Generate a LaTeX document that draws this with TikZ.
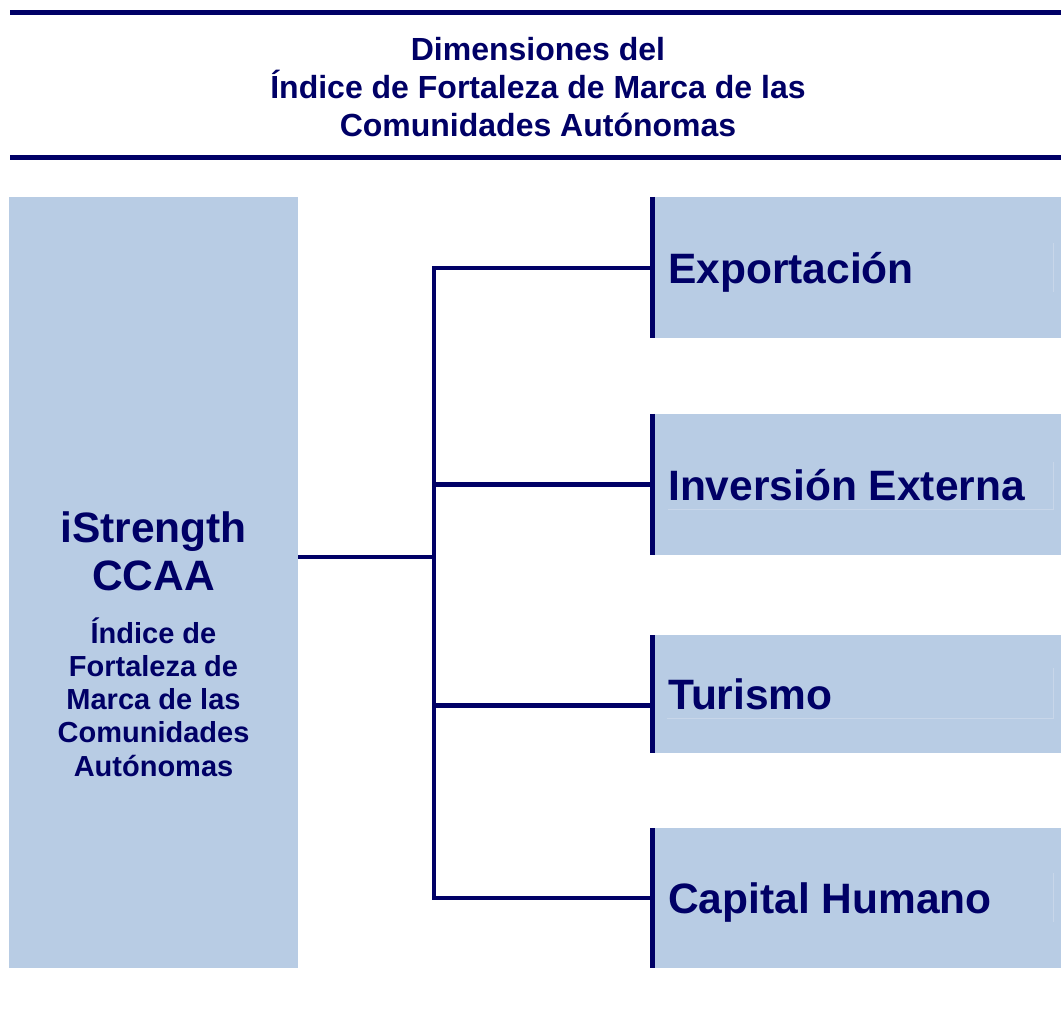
\documentclass[tikz,border=0pt]{standalone}
\usepackage{fontspec}
\setmainfont{Liberation Sans}
\definecolor{navy}{RGB}{0,0,102}
\definecolor{boxblue}{RGB}{184,204,228}
\definecolor{faint}{RGB}{200,214,233}
\begin{document}
\begin{tikzpicture}[x=1pt,y=-1pt,
  rule/.style={navy,line width=5pt},
  conn/.style={navy,line width=4.8pt},
  bar/.style={navy,line width=5pt},
  panel/.style={fill=boxblue,draw=none,inner sep=0pt,anchor=north west},
  bigtxt/.style={text=navy,font=\bfseries\fontsize{42.5}{48}\selectfont,inner sep=0pt},
  subtxt/.style={text=navy,font=\bfseries\fontsize{29}{33}\selectfont,inner sep=0pt,anchor=base},
  titletxt/.style={text=navy,font=\bfseries\fontsize{32}{37}\selectfont,inner sep=0pt,anchor=base},
  faintline/.style={faint,line width=0.8pt}]
\useasboundingbox[fill=white] (0,0) rectangle (1061,1032);
% header rules
\coordinate (r1a) at (10,12.5); \coordinate (r1b) at (1061,12.5);
\coordinate (r2a) at (10,157.5); \coordinate (r2b) at (1061,157.5);
\draw[rule] (r1a) -- (r1b);
\draw[rule] (r2a) -- (r2b);
\node[titletxt] (t1) at (538,61) {Dimensiones del};
\node[titletxt] (t2) at (538,99) {Índice de Fortaleza de Marca de las};
\node[titletxt] (t3) at (538,136.5) {Comunidades Autónomas};
% main box
\node[panel,minimum width=289pt,minimum height=771pt] (main) at (9,197) {};
\node[bigtxt,anchor=base] (m1) at (153.5,542) {iStrength};
\node[bigtxt,anchor=base] (m2) at (153.5,590) {CCAA};
\node[subtxt] (s1) at (153.5,643) {Índice de};
\node[subtxt] (s2) at (153.5,676.2) {Fortaleza de};
\node[subtxt] (s3) at (153.5,709.5) {Marca de las};
\node[subtxt] (s4) at (153.5,742.8) {Comunidades};
\node[subtxt] (s5) at (153.5,776) {Autónomas};
% right boxes
\node[panel,minimum width=411pt,minimum height=141pt] (exp) at (650,197) {};
\node[panel,minimum width=411pt,minimum height=141pt] (inv) at (650,414) {};
\node[panel,minimum width=411pt,minimum height=118pt] (tur) at (650,635) {};
\node[panel,minimum width=411pt,minimum height=140pt] (cap) at (650,828) {};
\foreach \b in {exp,inv,tur,cap}{
  \draw[bar] ([xshift=2.5pt]\b.north west) -- ([xshift=2.5pt]\b.south west);
}
% faint text-frame edges
\draw[faintline] (1053,243) -- (1053,292);
\draw[faintline] (668,509) -- (1053,509) -- (1053,462);
\draw[faintline] (667,718) -- (1053,718) -- (1053,668);
\draw[faintline] (1053,873) -- (1053,922);
\node[bigtxt,anchor=base west] (le) at (668,284) {Exportación};
\node[bigtxt,anchor=base west] (li) at (668,500) {Inversión Externa};
\node[bigtxt,anchor=base west] (lt) at (668,709) {Turismo};
\node[bigtxt,anchor=base west] (lc) at (668,913) {Capital Humano};
% connectors
\coordinate (bt) at (434,268);
\coordinate (bb) at (434,898);
\coordinate (bj) at (434,557);
\draw[conn] (main.east |- bj) -- (bj);
\draw[conn,line cap=rect] (bt) -- (bb);
\draw[conn] (bt) -- (exp.west |- bt);
\draw[conn] (434,484.5) -- (inv.west |- 0,484.5);
\draw[conn] (434,705.5) -- (tur.west |- 0,705.5);
\draw[conn] (bb) -- (cap.west |- bb);
\end{tikzpicture}
\end{document}
